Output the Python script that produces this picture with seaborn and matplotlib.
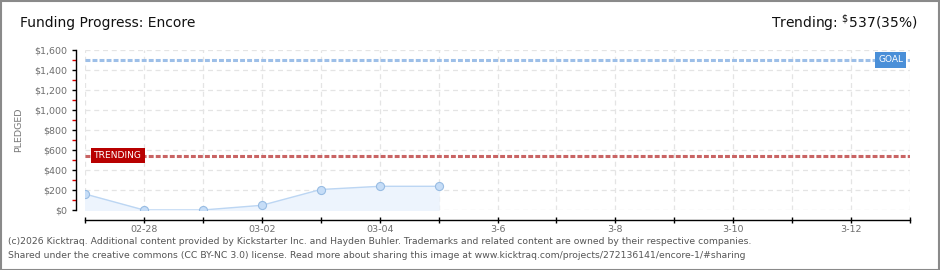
import matplotlib
matplotlib.use("Agg")
import matplotlib.pyplot as plt
import seaborn as sns
import pandas as pd
import numpy as np

# ---- data ----
dates = ["2026-02-27", "2026-02-28", "2026-03-01", "2026-03-02",
         "2026-03-03", "2026-03-04", "2026-03-05"]
pledged = [160, 0, 0, 47, 205, 237, 237]
goal = 1500
trending = 537
trending_pct = 35
axis_days = ["2026-02-27", "2026-02-28", "2026-03-01", "2026-03-02", "2026-03-03",
             "2026-03-04", "2026-03-05", "2026-03-06", "2026-03-07", "2026-03-08",
             "2026-03-09", "2026-03-10", "2026-03-11", "2026-03-12", "2026-03-13"]
x_tick_labels = ["", "02-28", "", "03-02", "", "03-04", "", "3-6", "",
                 "3-8", "", "3-10", "", "3-12", ""]
y_ticks = [0, 200, 400, 600, 800, 1000, 1200, 1400, 1600]
y_tick_labels = ["$0", "$200", "$400", "$600", "$800", "$1,000", "$1,200", "$1,400", "$1,600"]

df = pd.DataFrame({"date": pd.to_datetime(dates), "pledged": pledged})
day_ts = pd.to_datetime(axis_days)

sns.set_theme(style="white")
plt.rcParams["font.family"] = ["DejaVu Sans"]

W, H = 940, 270
fig = plt.figure(figsize=(W / 100, H / 100), dpi=100)
fig.patch.set_facecolor("white")
ax = fig.add_axes([85 / W, 1 - 210 / H, (910 - 85) / W, 160 / H])
ax.set_facecolor("white")

# grid
ax.set_xlim(day_ts[0], day_ts[-1])
ax.set_ylim(0, 1600)
ax.set_xticks(day_ts)
ax.set_xticklabels(x_tick_labels)
ax.set_yticks(y_ticks)
ax.set_yticklabels(y_tick_labels)
ax.set_yticks(np.arange(100, 1600, 200), minor=True)
ax.grid(True, which="major", color="#e4e4e4", linestyle=(0, (4, 3)), linewidth=0.9)
ax.set_axisbelow(True)

# goal & trending lines
ax.axhline(goal, color="#9dbfe8", linestyle=(0, (1.6, 0.7)), linewidth=2.2, zorder=2)
ax.axhline(trending, color="#c96464", linestyle=(0, (1.6, 0.7)), linewidth=2.2, zorder=2)

# area + line + markers
ax.fill_between(df["date"], df["pledged"], 0, color="#edf4fd", zorder=1)
sns.lineplot(data=df, x="date", y="pledged", ax=ax, color="#bcd6f3",
             linewidth=1.0, zorder=3)
sns.scatterplot(data=df, x="date", y="pledged", ax=ax, color="#c6ddf7",
                edgecolor="#98bce3", linewidth=0.8, s=34, zorder=4)

ax.set_xlabel("")
ax.set_ylabel("PLEDGED", color="#777777", fontsize=6.8)
ax.yaxis.set_label_coords(-62 / 825, 0.5)

# labels
ax.text(day_ts[-1] - pd.Timedelta(hours=2.8), goal, "GOAL", ha="right", va="center",
        color="white", fontsize=6.5, zorder=6,
        bbox=dict(boxstyle="square,pad=0.35", fc="#4a8fd8", ec="none"))
ax.text(day_ts[0] + pd.Timedelta(hours=3.6), trending + 10, "TRENDING", ha="left", va="center",
        color="white", fontsize=6.6, zorder=6,
        bbox=dict(boxstyle="square,pad=0.35", fc="#b80000", ec="none"))

# spines
for s in ["top", "right"]:
    ax.spines[s].set_visible(False)
ax.spines["left"].set_position(("outward", 9 * 0.72))
ax.spines["bottom"].set_position(("outward", 10 * 0.72))
for s in ["left", "bottom"]:
    ax.spines[s].set_color("black")
    ax.spines[s].set_linewidth(1.0)
ax.tick_params(axis="y", which="major", direction="out", length=3, width=1,
               color="black", labelsize=6.8, labelcolor="#6e6e6e", pad=3, left=True)
ax.tick_params(axis="y", which="minor", direction="out", length=3, width=1,
               color="#dd0000", left=True)
ax.tick_params(axis="x", which="major", direction="inout", length=5, width=1,
               color="black", labelsize=6.8, labelcolor="#6e6e6e", pad=1, bottom=True)

# titles
fig.text(20 / W, 1 - 23 / H, "Funding Progress: Encore", ha="left", va="center",
         fontsize=10, color="#111111")
fig.text(918 / W, 1 - 23 / H, f"Trending: $\\mathregular{{^{{\\$}}}}${trending}({trending_pct}%)",
         ha="right", va="center", fontsize=10, color="#111111")

# footer
fig.text(8 / W, 1 - 242 / H,
         "(c)2026 Kicktraq. Additional content provided by Kickstarter Inc. and Hayden Buhler. "
         "Trademarks and related content are owned by their respective companies.",
         ha="left", va="center", fontsize=6.65, color="#555555")
fig.text(8 / W, 1 - 256 / H,
         "Shared under the creative commons (CC BY-NC 3.0) license. Read more about sharing "
         "this image at www.kicktraq.com/projects/272136141/encore-1/#sharing",
         ha="left", va="center", fontsize=6.65, color="#555555")

# border
fig.add_artist(plt.Rectangle((0.5 / W, 0.5 / H), 1 - 1.5 / W, 1 - 1.5 / H,
                             transform=fig.transFigure, fill=False,
                             edgecolor="#8a8a8a", linewidth=1.5))

fig.savefig("out.png", dpi=100)
